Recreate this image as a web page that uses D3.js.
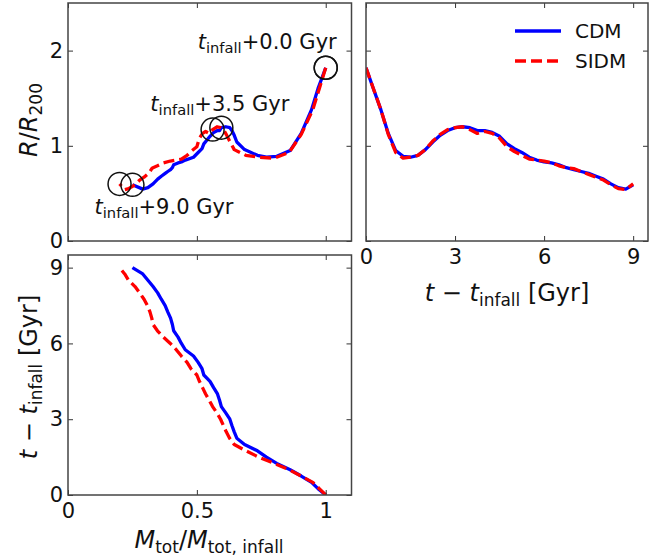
<!DOCTYPE html>
<html><head><meta charset="utf-8">
<script src="https://cdn.jsdelivr.net/npm/d3@7"></script>
<style>
body{margin:0;background:#fff;}
svg{display:block;font-family:"DejaVu Sans",sans-serif;}
</style>
</head><body>
<svg id="chart" width="667" height="559"></svg>
<script>
// ---- data ----
const timeGyr = [0,0.25,0.5,0.75,1,1.25,1.5,1.75,2,2.25,2.5,2.75,3,3.25,3.5,3.75,4,4.25,4.5,4.75,5,5.25,5.5,5.75,6,6.25,6.5,6.75,7,7.25,7.5,7.75,8,8.25,8.5,8.75,9];
const rCDM  = [1.82,1.60,1.38,1.13,0.95,0.89,0.88,0.90,0.96,1.04,1.11,1.16,1.19,1.20,1.19,1.16,1.16,1.14,1.10,1.02,0.97,0.93,0.88,0.85,0.83,0.82,0.80,0.77,0.75,0.73,0.71,0.68,0.65,0.60,0.56,0.545,0.59];
const rSIDM = [1.82,1.60,1.38,1.12,0.93,0.87,0.88,0.90,0.96,1.05,1.12,1.17,1.19,1.20,1.17,1.13,1.15,1.13,1.08,0.99,0.94,0.90,0.86,0.85,0.84,0.82,0.79,0.77,0.76,0.73,0.70,0.67,0.64,0.59,0.55,0.54,0.60];
const mCDM  = [1.00,0.97,0.945,0.905,0.862,0.81,0.77,0.735,0.685,0.655,0.645,0.636,0.628,0.612,0.595,0.588,0.58,0.565,0.551,0.527,0.52,0.505,0.487,0.455,0.44,0.427,0.41,0.405,0.398,0.387,0.377,0.362,0.348,0.33,0.31,0.29,0.25];
const mSIDM = [1.00,0.975,0.95,0.905,0.858,0.80,0.74,0.69,0.645,0.627,0.614,0.603,0.592,0.578,0.561,0.548,0.534,0.522,0.51,0.50,0.477,0.462,0.44,0.42,0.397,0.37,0.347,0.33,0.325,0.318,0.308,0.295,0.278,0.26,0.235,0.22,0.20];
const seriesNames = ["CDM","SIDM"];
const markTimes = [0, 3.5, 9];
const markLabels = ["+0.0 Gyr","+3.5 Gyr","+9.0 Gyr"];
const massTicks = [0,0.5,1];
const massTickLabels = ["0","0.5","1"];
const radiusTicks = [0,1,2];
const radiusTickLabels = ["0","1","2"];
const timeTicks = [0,3,6,9];
const timeTickLabels = ["0","3","6","9"];

// ---- styles ----
const colors = {CDM:"#0000ff", SIDM:"#ff0000"};
const dashes = {CDM:null, SIDM:"11,5"};
const FS = 21, SUB = 14.7;      // tick / annotation text
const LFS = 24, LSUB = 17;      // axis label text

const svg = d3.select("#chart");
const cdm = timeGyr.map((t,i)=>({t, r:rCDM[i], m:mCDM[i]}));
const sidm = timeGyr.map((t,i)=>({t, r:rSIDM[i], m:mSIDM[i]}));
const series = [{name:"CDM", d:cdm},{name:"SIDM", d:sidm}];

function panel(x0,y0,x1,y1,xd,yd){
  const x = d3.scaleLinear().domain(xd).range([x0,x1]);
  const y = d3.scaleLinear().domain(yd).range([y1,y0]);
  const g = svg.append("g");
  const clipId = "clip"+Math.round(x0)+"_"+Math.round(y0);
  svg.append("clipPath").attr("id",clipId).append("rect").attr("x",x0).attr("y",y0).attr("width",x1-x0).attr("height",y1-y0);
  return {x,y,g,x0,y0,x1,y1,clipId};
}
function axes(p, xt, xl, yt, yl){
  const tick = 5;
  const ab = d3.axisBottom(p.x).tickValues(xt).tickSizeInner(-tick).tickSizeOuter(0).tickPadding(8)
     .tickFormat((d,i)=> xl ? xl[i] : "");
  const at = d3.axisTop(p.x).tickValues(xt).tickSizeInner(-tick).tickSizeOuter(0).tickFormat("");
  const al = d3.axisLeft(p.y).tickValues(yt).tickSizeInner(-tick).tickSizeOuter(0).tickPadding(5)
     .tickFormat((d,i)=> yl ? yl[i] : "");
  const ar = d3.axisRight(p.y).tickValues(yt).tickSizeInner(-tick).tickSizeOuter(0).tickFormat("");
  const put = (ax, tr) => {
    const gg = p.g.append("g").attr("transform",tr).call(ax);
    gg.select(".domain").remove();
    gg.selectAll("line").attr("stroke","#333").attr("stroke-width",1);
    gg.selectAll("text").attr("font-size",FS).attr("font-family","DejaVu Sans").attr("fill","#111");
  };
  put(ab,`translate(0,${p.y1})`);
  put(at,`translate(0,${p.y0})`);
  put(al,`translate(${p.x0},0)`);
  put(ar,`translate(${p.x1},0)`);
  p.g.append("rect").attr("x",p.x0).attr("y",p.y0).attr("width",p.x1-p.x0).attr("height",p.y1-p.y0)
    .attr("fill","none").attr("stroke","#444").attr("stroke-width",1.5);
}
function drawLines(p, fx, fy){
  const line = d3.line().x(d=>p.x(fx(d))).y(d=>p.y(fy(d)));
  const lg = p.g.append("g").attr("clip-path",`url(#${p.clipId})`);
  series.forEach(s=>{
    lg.append("path").datum(s.d).attr("d",line).attr("fill","none")
      .attr("stroke",colors[s.name]).attr("stroke-width",3.3)
      .attr("stroke-dasharray",dashes[s.name]).attr("stroke-linejoin","round");
  });
}

// Panel A: R vs M
const A = panel(68,3,351.5,241,[0,1.1],[0,2.5]);
drawLines(A, d=>d.m, d=>d.r);
axes(A, massTicks, null, radiusTicks, radiusTickLabels);
// Panel B: R vs t
const B = panel(366,3,648,241,[0,9.5],[0,2.5]);
drawLines(B, d=>d.t, d=>d.r);
axes(B, timeTicks, timeTickLabels, radiusTicks, null);
// Panel C: t vs M
const C = panel(68,255,351.5,495,[0,1.1],[0,9.5]);
drawLines(C, d=>d.m, d=>d.t);
axes(C, massTicks, massTickLabels, timeTicks, timeTickLabels);

// circles marking times in panel A
series.forEach(s=>{
  markTimes.forEach(mt=>{
    const d = s.d.find(e=>e.t===mt);
    A.g.append("circle").attr("cx",A.x(d.m)).attr("cy",A.y(d.r)).attr("r",11.5)
      .attr("fill","none").attr("stroke","#111").attr("stroke-width",1.5);
  });
});

// annotation text
function tinfall(sel, rest){
  sel.append("tspan").attr("font-style","italic").text("t");
  sel.append("tspan").attr("font-size",SUB).attr("dy",4.5).text("infall");
  sel.append("tspan").attr("dy",-4.5).text(rest);
}
const annot = [
  {i:0, s:cdm, dx:11, dy:-19, anchor:"end"},
  {i:1, s:cdm, dx:-71, dy:-17, anchor:"start"},
  {i:2, s:sidm, dx:-25, dy:30, anchor:"start"}
];
annot.forEach(a=>{
  const d = a.s.find(e=>e.t===markTimes[a.i]);
  const t = A.g.append("text").attr("x",A.x(d.m)+a.dx).attr("y",A.y(d.r)+a.dy)
    .attr("text-anchor",a.anchor).attr("font-size",FS).attr("fill","#111");
  tinfall(t, markLabels[a.i]);
});

// legend
const lg = B.g.append("g");
seriesNames.forEach((n,i)=>{
  const yy = 31 + i*30;
  lg.append("line").attr("x1",515).attr("x2",561).attr("y1",yy).attr("y2",yy)
    .attr("stroke",colors[n]).attr("stroke-width",3.3).attr("stroke-dasharray",dashes[n]);
  lg.append("text").attr("x",575).attr("y",yy).attr("dy","0.36em").attr("font-size",FS-1).attr("fill","#111").text(n);
});

// axis labels
const yl1 = svg.append("text").attr("transform","translate(37,120) rotate(-90)").attr("text-anchor","middle")
  .attr("font-size",LFS).attr("fill","#111");
yl1.append("tspan").attr("font-style","italic").text("R");
yl1.append("tspan").text("/");
yl1.append("tspan").attr("font-style","italic").text("R");
yl1.append("tspan").attr("font-size",LSUB).attr("dy",5).text("200");

function tLabel(sel){
  sel.append("tspan").attr("font-style","italic").text("t");
  sel.append("tspan").text(" − ");
  sel.append("tspan").attr("font-style","italic").text("t");
  sel.append("tspan").attr("font-size",LSUB).attr("dy",5).text("infall");
  sel.append("tspan").attr("dy",-5).text(" [Gyr]");
}
tLabel(svg.append("text").attr("x",507).attr("y",301).attr("text-anchor","middle").attr("font-size",LFS).attr("fill","#111"));
tLabel(svg.append("text").attr("transform","translate(37,377) rotate(-90)").attr("text-anchor","middle").attr("font-size",LFS).attr("fill","#111"));

const xl = svg.append("text").attr("x",209).attr("y",548).attr("text-anchor","middle").attr("font-size",LFS).attr("fill","#111");
xl.append("tspan").attr("font-style","italic").text("M");
xl.append("tspan").attr("font-size",LSUB).attr("dy",5).text("tot");
xl.append("tspan").attr("dy",-5).text("/");
xl.append("tspan").attr("font-style","italic").text("M");
xl.append("tspan").attr("font-size",LSUB).attr("dy",5).text("tot, infall");
</script>
</body></html>
